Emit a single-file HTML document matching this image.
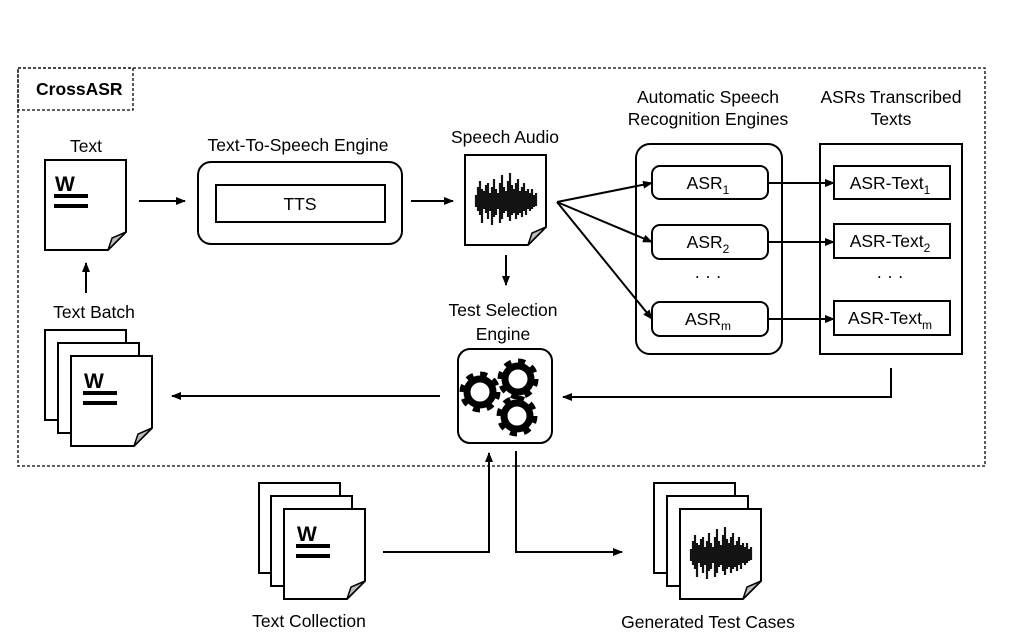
<!DOCTYPE html>
<html><head><meta charset="utf-8"><style>
html,body{margin:0;padding:0;background:#fff;}
svg{display:block;font-family:"Liberation Sans",sans-serif;}
text{font-size:17.5px;fill:#000;}
</style></head><body>
<svg width="1012" height="641" viewBox="0 0 1012 641" xmlns="http://www.w3.org/2000/svg">
<defs>
<marker id="ah" markerWidth="10" markerHeight="8" refX="9" refY="4" orient="auto" markerUnits="userSpaceOnUse">
<path d="M0,0 L10,4 L0,8 Z" fill="#000"/>
</marker>
<g id="doc">
<path d="M0,0 H81 V72 L63,90 H0 Z" fill="#fff" stroke="#000" stroke-width="2"/>
<path d="M63,90 L67,78 L81,72 Z" fill="#bbb" stroke="#000" stroke-width="1.5"/>
</g>
<g id="plain">
<rect x="0" y="0" width="81" height="90" fill="#fff" stroke="#000" stroke-width="2"/>
</g>
<g id="wicon">
<text x="0" y="17" style="font-size:21px;font-weight:bold;">W</text>
<rect x="-1" y="20" width="34" height="4" fill="#000"/>
<rect x="-1" y="30" width="34" height="4" fill="#000"/>
</g>
<g id="wave" stroke="#000" stroke-width="2.2" opacity="0.92">
<path d="M0,-6V6 M2,-14V10 M4,-20V14 M6,-12V22 M8,-10V8 M10,-16V12 M12,-18V18 M14,-8V10 M16,-14V24 M18,-22V16 M20,-12V14 M22,-8V8 M24,-18V22 M26,-26V18 M28,-14V12 M30,-10V10 M32,-20V16 M34,-28V20 M36,-16V14 M38,-12V12 M40,-18V18 M42,-22V14 M44,-10V12 M46,-14V16 M48,-18V10 M50,-10V14 M52,-12V8 M54,-8V10 M56,-12V8 M58,-6V6 M60,-8V5"/>
<path d="M0,0H61" stroke-width="9"/>
</g>
<g id="gear">
<circle r="13" fill="none" stroke="#000" stroke-width="7"/>
<circle r="17" fill="none" stroke="#000" stroke-width="7" stroke-dasharray="6.7 6.65"/>
</g>
</defs>

<rect x="18" y="68" width="967" height="398" fill="none" stroke="#000" stroke-width="1.3" stroke-dasharray="3 2"/>
<rect x="18" y="68" width="115" height="42" fill="none" stroke="#000" stroke-width="1.3" stroke-dasharray="3 2"/>
<text x="36" y="95" style="font-weight:bold;">CrossASR</text>

<text x="86" y="152" text-anchor="middle">Text</text>
<use href="#doc" x="45" y="160"/>
<use href="#wicon" x="55" y="174"/>
<line x1="139" y1="201" x2="185" y2="201" stroke="#000" stroke-width="2" marker-end="url(#ah)"/>

<text x="298" y="151" text-anchor="middle">Text-To-Speech Engine</text>
<rect x="198" y="162" width="204" height="82" rx="13" fill="#fff" stroke="#000" stroke-width="2"/>
<rect x="216" y="185" width="169" height="37" fill="#fff" stroke="#000" stroke-width="2"/>
<text x="300" y="210" text-anchor="middle">TTS</text>
<line x1="411" y1="201" x2="453" y2="201" stroke="#000" stroke-width="2" marker-end="url(#ah)"/>

<text x="505" y="143" text-anchor="middle">Speech Audio</text>
<use href="#doc" x="465" y="155"/>
<use href="#wave" x="476" y="201"/>
<line x1="506" y1="255" x2="506" y2="285" stroke="#000" stroke-width="2" marker-end="url(#ah)"/>

<text x="503" y="316" text-anchor="middle">Test Selection</text>
<text x="503" y="340" text-anchor="middle">Engine</text>
<rect x="458" y="349" width="94" height="94" rx="12" fill="#fff" stroke="#000" stroke-width="2"/>
<use href="#gear" x="480" y="392"/>
<use href="#gear" x="518" y="379"/>
<use href="#gear" x="517" y="416"/>

<line x1="557" y1="202" x2="652" y2="183" stroke="#000" stroke-width="2" marker-end="url(#ah)"/>
<line x1="557" y1="202" x2="652" y2="242" stroke="#000" stroke-width="2" marker-end="url(#ah)"/>
<line x1="557" y1="202" x2="652" y2="319" stroke="#000" stroke-width="2" marker-end="url(#ah)"/>

<text x="708" y="103" text-anchor="middle">Automatic Speech</text>
<text x="708" y="125" text-anchor="middle">Recognition Engines</text>
<rect x="636" y="144" width="146" height="210" rx="14" fill="none" stroke="#000" stroke-width="2"/>
<rect x="652" y="166" width="116" height="33" rx="8" fill="#fff" stroke="#000" stroke-width="2"/>
<rect x="652" y="225" width="116" height="34" rx="8" fill="#fff" stroke="#000" stroke-width="2"/>
<rect x="652" y="302" width="116" height="34" rx="8" fill="#fff" stroke="#000" stroke-width="2"/>
<text x="708" y="189" text-anchor="middle">ASR<tspan dy="5" style="font-size:12px">1</tspan></text>
<text x="708" y="248" text-anchor="middle">ASR<tspan dy="5" style="font-size:12px">2</tspan></text>
<text x="708" y="325" text-anchor="middle">ASR<tspan dy="5" style="font-size:12px">m</tspan></text>
<text x="708" y="282" text-anchor="middle">· · ·</text>

<text x="891" y="103" text-anchor="middle">ASRs Transcribed</text>
<text x="891" y="125" text-anchor="middle">Texts</text>
<rect x="820" y="144" width="142" height="210" fill="none" stroke="#000" stroke-width="2"/>
<rect x="834" y="166" width="116" height="33" fill="#fff" stroke="#000" stroke-width="2"/>
<rect x="834" y="224" width="116" height="34" fill="#fff" stroke="#000" stroke-width="2"/>
<rect x="834" y="301" width="116" height="34" fill="#fff" stroke="#000" stroke-width="2"/>
<text x="890" y="189" text-anchor="middle">ASR-Text<tspan dy="5" style="font-size:12px">1</tspan></text>
<text x="890" y="247" text-anchor="middle">ASR-Text<tspan dy="5" style="font-size:12px">2</tspan></text>
<text x="890" y="324" text-anchor="middle">ASR-Text<tspan dy="5" style="font-size:12px">m</tspan></text>
<text x="890" y="282" text-anchor="middle">· · ·</text>

<line x1="768" y1="183" x2="834" y2="183" stroke="#000" stroke-width="2" marker-end="url(#ah)"/>
<line x1="768" y1="242" x2="834" y2="242" stroke="#000" stroke-width="2" marker-end="url(#ah)"/>
<line x1="768" y1="319" x2="834" y2="319" stroke="#000" stroke-width="2" marker-end="url(#ah)"/>

<polyline points="891,368 891,397 563,397" fill="none" stroke="#000" stroke-width="2" marker-end="url(#ah)"/>
<line x1="440" y1="396" x2="172" y2="396" stroke="#000" stroke-width="2" marker-end="url(#ah)"/>

<line x1="86" y1="293" x2="86" y2="263" stroke="#000" stroke-width="2" marker-end="url(#ah)"/>
<text x="94" y="318" text-anchor="middle">Text Batch</text>
<use href="#plain" x="45" y="330"/>
<use href="#plain" x="58" y="343"/>
<use href="#doc" x="71" y="356"/>
<use href="#wicon" x="84" y="371"/>

<polyline points="383,552 489,552 489,453" fill="none" stroke="#000" stroke-width="2" marker-end="url(#ah)"/>
<polyline points="516,451 516,552 622,552" fill="none" stroke="#000" stroke-width="2" marker-end="url(#ah)"/>

<use href="#plain" x="259" y="483"/>
<use href="#plain" x="271" y="496"/>
<use href="#doc" x="284" y="509"/>
<use href="#wicon" x="297" y="524"/>
<text x="309" y="627" text-anchor="middle">Text Collection</text>

<use href="#plain" x="654" y="483"/>
<use href="#plain" x="667" y="496"/>
<use href="#doc" x="680" y="509"/>
<use href="#wave" x="691" y="555"/>
<text x="708" y="628" text-anchor="middle">Generated Test Cases</text>
</svg>
</body></html>
